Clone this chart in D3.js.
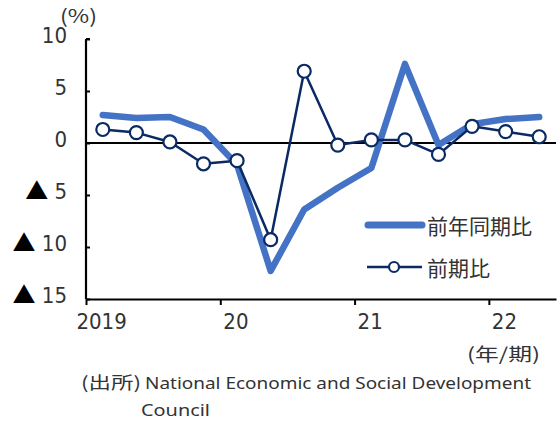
<!DOCTYPE html>
<html><head><meta charset="utf-8">
<script src="https://cdn.jsdelivr.net/npm/d3@7/dist/d3.min.js"></script>
<style>
html,body{margin:0;padding:0;background:#fff;}
svg{display:block;}
</style></head>
<body>
<script>
const quarters = ["2019Q1","2019Q2","2019Q3","2019Q4","2020Q1","2020Q2","2020Q3","2020Q4","2021Q1","2021Q2","2021Q3","2021Q4","2022Q1","2022Q2"];
const yoy = [2.7, 2.4, 2.5, 1.3, -2.1, -12.3, -6.4, -4.3, -2.4, 7.6, -0.2, 1.8, 2.3, 2.5];
const qoq = [1.3, 1.0, 0.1, -2.0, -1.7, -9.3, 6.9, -0.2, 0.3, 0.3, -1.1, 1.6, 1.1, 0.6];
const yearTicks = [0, 4, 8, 12];
const yearLabels = ["2019", "20", "21", "22"];
const yTicks = [10, 5, 0, -5, -10, -15];
const seriesNames = ["前年同期比", "前期比"];

const W = 558, H = 423;
const NUM = "'Liberation Sans Narrow','Arial Narrow','DejaVu Sans Condensed',sans-serif";
const CJK = "'Noto Sans CJK JP',sans-serif";
const LAT = "'Noto Sans',sans-serif";
const blue = "#4472C4", navy = "#0B2A63";
const txt = "#333";

const svg = d3.select("body").append("svg").attr("width", W).attr("height", H);

const x = d3.scaleLinear().domain([0, quarters.length]).range([86, 556]);
const y = d3.scaleLinear().domain([-15, 10]).range([299, 39]);

// zero line
svg.append("line").attr("x1", x(0)).attr("x2", x(quarters.length))
  .attr("y1", y(0)).attr("y2", y(0)).attr("stroke", "#000").attr("stroke-width", 2);

// Y axis
const yAxis = svg.append("g").attr("transform", `translate(${x(0)},0)`)
  .call(d3.axisLeft(y).tickValues(yTicks).tickSize(-4).tickPadding(19).tickFormat(""));
yAxis.select(".domain").attr("stroke-width", 2.2).attr("d", `M0,${y(10)}H4M0,${y(10)}V${y(-15)}`);
yAxis.selectAll(".tick line").attr("stroke-width", 2);
yAxis.selectAll(".tick text").each(function(d){
  const t = d3.select(this).attr("fill", txt).attr("dy", "0.34em");
  if (d < 0) {
    t.append("tspan").attr("font-family", CJK).attr("font-size", 23).attr("fill", "#000").text("▲");
    t.append("tspan").attr("font-family", NUM).attr("font-size", 22).text("\u00a0" + Math.abs(d));
  } else {
    t.append("tspan").attr("font-family", NUM).attr("font-size", 22).text(d);
  }
});

// X axis
const xAxis = svg.append("g").attr("transform", `translate(0,${y(-15)})`)
  .call(d3.axisBottom(x).tickValues(yearTicks).tickSize(6).tickSizeOuter(0)
    .tickFormat((d, i) => yearLabels[i]));
xAxis.select(".domain").attr("stroke-width", 2.2);
xAxis.selectAll(".tick line").attr("stroke-width", 2);
xAxis.selectAll(".tick text")
  .attr("x", x(0.45) - x(0)).attr("y", 30).attr("dy", 0)
  .attr("font-family", NUM).attr("font-size", 22).attr("fill", txt);

// series
const lineGen = d3.line().x((d, i) => x(i + 0.5)).y(d => y(d));
svg.append("path").datum(yoy).attr("d", lineGen)
  .attr("fill", "none").attr("stroke", blue).attr("stroke-width", 6.5)
  .attr("stroke-linejoin", "round").attr("stroke-linecap", "round");
svg.append("path").datum(qoq).attr("d", lineGen)
  .attr("fill", "none").attr("stroke", navy).attr("stroke-width", 2.5)
  .attr("stroke-linejoin", "round");
svg.append("g").selectAll("circle").data(qoq).join("circle")
  .attr("cx", (d, i) => x(i + 0.5)).attr("cy", d => y(d)).attr("r", 6.5)
  .attr("fill", "#fff").attr("stroke", navy).attr("stroke-width", 2.2);

// legend
const lg = svg.append("g");
lg.append("line").attr("x1", 368).attr("x2", 422).attr("y1", 225).attr("y2", 225)
  .attr("stroke", blue).attr("stroke-width", 7).attr("stroke-linecap", "round");
lg.append("text").attr("x", 427).attr("y", 226).attr("dy", "0.36em")
  .attr("font-family", CJK).attr("font-size", 21).attr("fill", txt).text(seriesNames[0]);
lg.append("line").attr("x1", 367).attr("x2", 422).attr("y1", 267).attr("y2", 267)
  .attr("stroke", navy).attr("stroke-width", 2.5);
lg.append("circle").attr("cx", 394).attr("cy", 267).attr("r", 5)
  .attr("fill", "#fff").attr("stroke", navy).attr("stroke-width", 2.2);
lg.append("text").attr("x", 427).attr("y", 268).attr("dy", "0.36em")
  .attr("font-family", CJK).attr("font-size", 21).attr("fill", txt).text(seriesNames[1]);

// unit labels
svg.append("text").attr("x", 60).attr("y", 16).attr("dy", "0.36em")
  .attr("font-family", CJK).attr("font-size", 19).attr("fill", txt)
  .attr("textLength", 37).attr("lengthAdjust", "spacingAndGlyphs").text("(%)");
svg.append("text").attr("x", 467).attr("y", 355).attr("dy", "0.36em")
  .attr("font-family", CJK).attr("font-size", 18).attr("fill", txt)
  .attr("textLength", 73).attr("lengthAdjust", "spacingAndGlyphs").text("(年/期)");

// source
svg.append("text").attr("x", 81).attr("y", 383).attr("dy", "0.36em")
  .attr("font-family", CJK).attr("font-size", 17).attr("fill", txt)
  .attr("textLength", 60).attr("lengthAdjust", "spacingAndGlyphs").text("(出所)");
svg.append("text").attr("x", 145).attr("y", 383).attr("dy", "0.36em")
  .attr("font-family", LAT).attr("font-size", 17).attr("fill", txt)
  .attr("textLength", 386).attr("lengthAdjust", "spacingAndGlyphs")
  .text("National Economic and Social Development");
svg.append("text").attr("x", 141).attr("y", 410).attr("dy", "0.36em")
  .attr("font-family", LAT).attr("font-size", 17).attr("fill", txt)
  .attr("textLength", 69).attr("lengthAdjust", "spacingAndGlyphs").text("Council");
</script>
</body></html>
